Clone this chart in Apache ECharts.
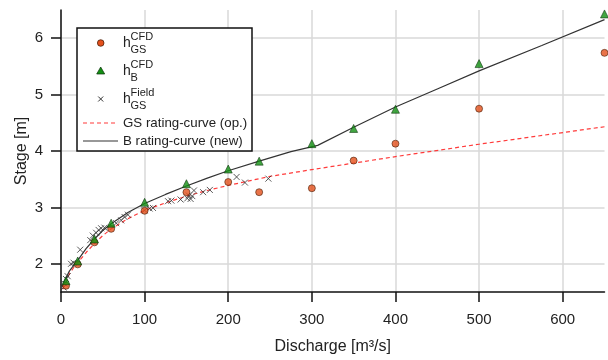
<!DOCTYPE html>
<html>
<head>
<meta charset="utf-8">
<script src="https://cdn.jsdelivr.net/npm/echarts@6/dist/echarts.min.js"></script>
<style>html,body{margin:0;padding:0;background:#fff}#c{width:608px;height:360px}</style>
</head>
<body>
<div id="c"></div>
<script>
// ---- data ----
const gsCfdQ = [6, 20, 40, 60, 100, 150, 200, 237, 300, 350, 400, 500, 650];
const gsCfdH = [1.61, 1.99, 2.38, 2.62, 2.94, 3.27, 3.45, 3.27, 3.34, 3.83, 4.13, 4.75, 5.74];
const bCfdQ = [6, 20, 40, 60, 100, 150, 200, 237, 300, 350, 400, 500, 650];
const bCfdH = [1.70, 2.05, 2.44, 2.72, 3.09, 3.42, 3.68, 3.82, 4.13, 4.40, 4.74, 5.55, 6.43];
const fieldQ = [3, 4, 6, 8, 12, 15, 23, 35, 38, 42, 45, 48, 52, 66, 72, 76, 80, 100, 106, 110, 128, 132, 143, 151, 153, 155, 157, 159, 170, 178, 210, 220, 248];
const fieldH = [1.58, 1.65, 1.73, 1.78, 2.0, 2.02, 2.25, 2.42, 2.5, 2.55, 2.6, 2.63, 2.64, 2.72, 2.77, 2.83, 2.87, 2.95, 2.98, 2.99, 3.11, 3.12, 3.14, 3.16, 3.21, 3.15, 3.20, 3.30, 3.27, 3.31, 3.54, 3.44, 3.51];
const gsCurveQ = [2, 5, 10, 15, 20, 30, 40, 50, 60, 80, 100, 125, 150, 175, 200, 250, 300, 400, 500, 650];
const gsCurveH = [1.55, 1.65, 1.82, 1.93, 2.02, 2.2, 2.36, 2.5, 2.62, 2.8, 2.95, 3.08, 3.2, 3.3, 3.39, 3.55, 3.67, 3.9, 4.12, 4.43];
const bCurveQ = [2, 5, 10, 15, 20, 30, 40, 50, 60, 80, 100, 125, 150, 175, 200, 237, 275, 307, 350, 400, 450, 500, 575, 650];
const bCurveH = [1.6, 1.72, 1.87, 1.97, 2.06, 2.27, 2.44, 2.59, 2.71, 2.91, 3.07, 3.23, 3.38, 3.52, 3.65, 3.82, 3.99, 4.1, 4.42, 4.78, 5.1, 5.42, 5.87, 6.33];
const xTicks = [0, 100, 200, 300, 400, 500, 600];
const yTicks = [2, 3, 4, 5, 6];

const zip = (a, b) => a.map((v, i) => [v, b[i]]);
const FONT = 'Liberation Sans, Arial, sans-serif';
const TXT = '#222';

const chart = echarts.init(document.getElementById('c'), null, {renderer: 'canvas'});

function hLabel(x, y, sup, sub) {
  return [
    {type: 'text', x: x, y: y + 0.5, z: 101, style: {text: 'h', fontSize: 14, fontFamily: FONT, fill: TXT, verticalAlign: 'middle'}},
    {type: 'text', x: x + 7.5, y: y - 6.5, z: 101, style: {text: sup, fontSize: 11, fontFamily: FONT, fill: TXT, verticalAlign: 'middle'}},
    {type: 'text', x: x + 7.5, y: y + 6.8, z: 101, style: {text: sub, fontSize: 11, fontFamily: FONT, fill: TXT, verticalAlign: 'middle'}}
  ];
}

const mx = 100.7;
const legendChildren = [
  {type: 'rect', z: 100, shape: {x: 77, y: 28, width: 175, height: 123}, style: {fill: '#fff', stroke: '#111', lineWidth: 1.5}},
  {type: 'circle', z: 101, shape: {cx: mx, cy: 43, r: 3.3}, style: {fill: '#e4501c', stroke: '#3a1500', lineWidth: 0.7}},
  {type: 'polygon', z: 101, shape: {points: [[mx, 67], [mx - 4, 74], [mx + 4, 74]]}, style: {fill: '#139013', stroke: '#0a300a', lineWidth: 0.7}},
  {type: 'line', z: 101, shape: {x1: mx - 2.5, y1: 96.5, x2: mx + 2.5, y2: 101.5}, style: {stroke: '#333', lineWidth: 1}},
  {type: 'line', z: 101, shape: {x1: mx - 2.5, y1: 101.5, x2: mx + 2.5, y2: 96.5}, style: {stroke: '#333', lineWidth: 1}},
  {type: 'line', z: 101, shape: {x1: 83, y1: 123, x2: 118, y2: 123}, style: {stroke: '#ff3b3b', lineWidth: 1.2, lineDash: [4, 3]}},
  {type: 'line', z: 101, shape: {x1: 83, y1: 141, x2: 118, y2: 141}, style: {stroke: '#333', lineWidth: 1.2}},
  {type: 'text', x: 123, y: 123, z: 101, style: {text: 'GS rating-curve (op.)', fontSize: 13.3, fontFamily: FONT, fill: TXT, verticalAlign: 'middle'}},
  {type: 'text', x: 123, y: 141, z: 101, style: {text: 'B rating-curve (new)', fontSize: 13.3, fontFamily: FONT, fill: TXT, verticalAlign: 'middle'}}
].concat(hLabel(123, 43, 'CFD', 'GS'), hLabel(123, 71, 'CFD', 'B'), hLabel(123, 99, 'Field', 'GS'));

const option = {
  animation: false,
  backgroundColor: '#fff',
  textStyle: {fontFamily: FONT},
  grid: {left: 61, right: 3.5, top: 10, bottom: 68, containLabel: false},
  xAxis: {
    type: 'value', min: 0, max: 650, interval: 100,
    name: 'Discharge [m³/s]', nameLocation: 'middle', nameGap: 47, nameMoveOverlap: false,
    nameTextStyle: {fontSize: 16, color: TXT, fontFamily: FONT},
    axisLine: {show: true, lineStyle: {color: '#111', width: 1.5}},
    axisTick: {show: true, length: 10, lineStyle: {color: '#111', width: 1.5}, customValues: xTicks},
    axisLabel: {fontSize: 15, color: TXT, margin: 20, fontFamily: FONT, customValues: xTicks},
    splitLine: {show: true, lineStyle: {color: '#d8d8d8', width: 1.5}}
  },
  yAxis: {
    type: 'value', min: 1.5, max: 6.5,
    name: 'Stage [m]', nameLocation: 'middle', nameGap: 31, nameMoveOverlap: false,
    nameTextStyle: {fontSize: 16, color: TXT, fontFamily: FONT},
    axisLine: {show: true, lineStyle: {color: '#111', width: 1.5}},
    axisTick: {show: true, length: 10, lineStyle: {color: '#111', width: 1.5}, customValues: yTicks},
    axisLabel: {fontSize: 15, color: TXT, margin: 18, fontFamily: FONT, customValues: yTicks},
    splitLine: {show: true, lineStyle: {color: '#d8d8d8', width: 1.5}}
  },
  series: [
    {name: 'GS rating-curve (op.)', type: 'line', data: zip(gsCurveQ, gsCurveH), showSymbol: false, symbol: 'none',
     lineStyle: {color: '#ff3b3b', width: 1.2, type: [4, 3]}, z: 2},
    {name: 'B rating-curve (new)', type: 'line', data: zip(bCurveQ, bCurveH), showSymbol: false, symbol: 'none',
     lineStyle: {color: '#333', width: 1.2}, z: 2},
    {name: 'hGS Field', type: 'scatter', data: zip(fieldQ, fieldH), symbol: 'path://M0,0L10,10M10,0L0,10', symbolSize: 6,
     itemStyle: {color: 'rgba(0,0,0,0)', borderColor: '#333', borderWidth: 1}, z: 3},
    {name: 'hGS CFD', type: 'scatter', data: zip(gsCfdQ, gsCfdH), symbol: 'circle', symbolSize: 7,
     itemStyle: {color: '#e4501c', borderColor: '#3a1500', borderWidth: 0.7}, z: 4},
    {name: 'hB CFD', type: 'scatter', data: zip(bCfdQ, bCfdH), symbol: 'triangle', symbolSize: 8,
     itemStyle: {color: '#139013', borderColor: '#0a300a', borderWidth: 0.7}, z: 4}
  ],
  graphic: [{type: 'group', z: 100, children: legendChildren}]
};
chart.setOption(option);
</script>
</body>
</html>
